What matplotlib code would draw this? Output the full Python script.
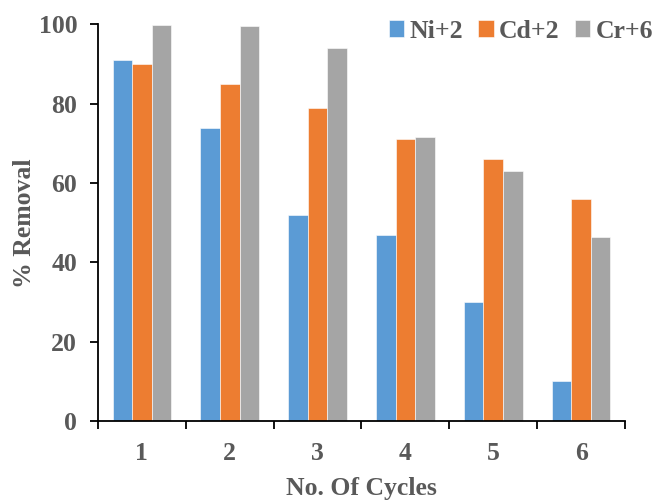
import matplotlib
matplotlib.use("Agg")
import matplotlib.pyplot as plt
import numpy as np

cycles = ["1", "2", "3", "4", "5", "6"]
series_names = ["Ni+2", "Cd+2", "Cr+6"]
ni = [91, 74, 52, 47, 30, 10]
cd = [90, 85, 79, 71, 66, 56]
cr = [99.8, 99.5, 94, 71.6, 63, 46.4]
colors = ["#5B9BD5", "#ED7D31", "#A5A5A5"]
yticks = [0, 20, 40, 60, 80, 100]

plt.rcParams['font.family'] = ['Liberation Serif', 'DejaVu Serif']
plt.rcParams['font.weight'] = 'bold'
txt = "#595959"

fig = plt.figure(figsize=(6.56, 5.01), dpi=100)
ax = fig.add_axes([98/656, 1-421/501, (625-98)/656, (421-24.5)/501])

x = np.arange(1, len(cycles)+1)
w = 1/4.5
for i, (vals, name) in enumerate(zip([ni, cd, cr], series_names)):
    ax.bar(x + (i-1)*w, vals, w, color=colors[i], label=name,
           edgecolor='#FFFFFF', linewidth=0.4)

ax.set_xlim(0.5, len(cycles)+0.5)
ax.set_ylim(0, 100)
ax.set_yticks(yticks)
ax.set_yticklabels([str(v) for v in yticks])
ax.set_xticks(x)
ax.set_xticklabels(cycles)
ax.set_xticks(np.arange(0.5, len(cycles)+1, 1), minor=True)
ax.tick_params(axis='x', which='major', length=0, pad=15, labelsize=18.5, labelcolor=txt)
ax.tick_params(axis='x', which='minor', length=6, width=1.3, direction='out')
ax.tick_params(axis='y', length=6, width=1.3, direction='out', pad=9, labelsize=18.5, labelcolor=txt)
for s in ['top', 'right']:
    ax.spines[s].set_visible(False)
for s in ['left', 'bottom']:
    ax.spines[s].set_linewidth(1.3)
ax.set_xlabel("No. Of Cycles", fontsize=18.5, color=txt, fontweight='bold', labelpad=9)
ax.set_ylabel("% Removal", fontsize=18.5, color=txt, fontweight='bold', labelpad=2)

leg = fig.legend(loc='center right', bbox_to_anchor=(653/656, 1-31/501), ncol=3,
                 frameon=False, fontsize=18.5, handlelength=0.6, handleheight=0.6,
                 handletextpad=0.2, columnspacing=0.6, borderpad=0, borderaxespad=0)
for t in leg.get_texts():
    t.set_color(txt)

fig.savefig("out.png", dpi=100)
